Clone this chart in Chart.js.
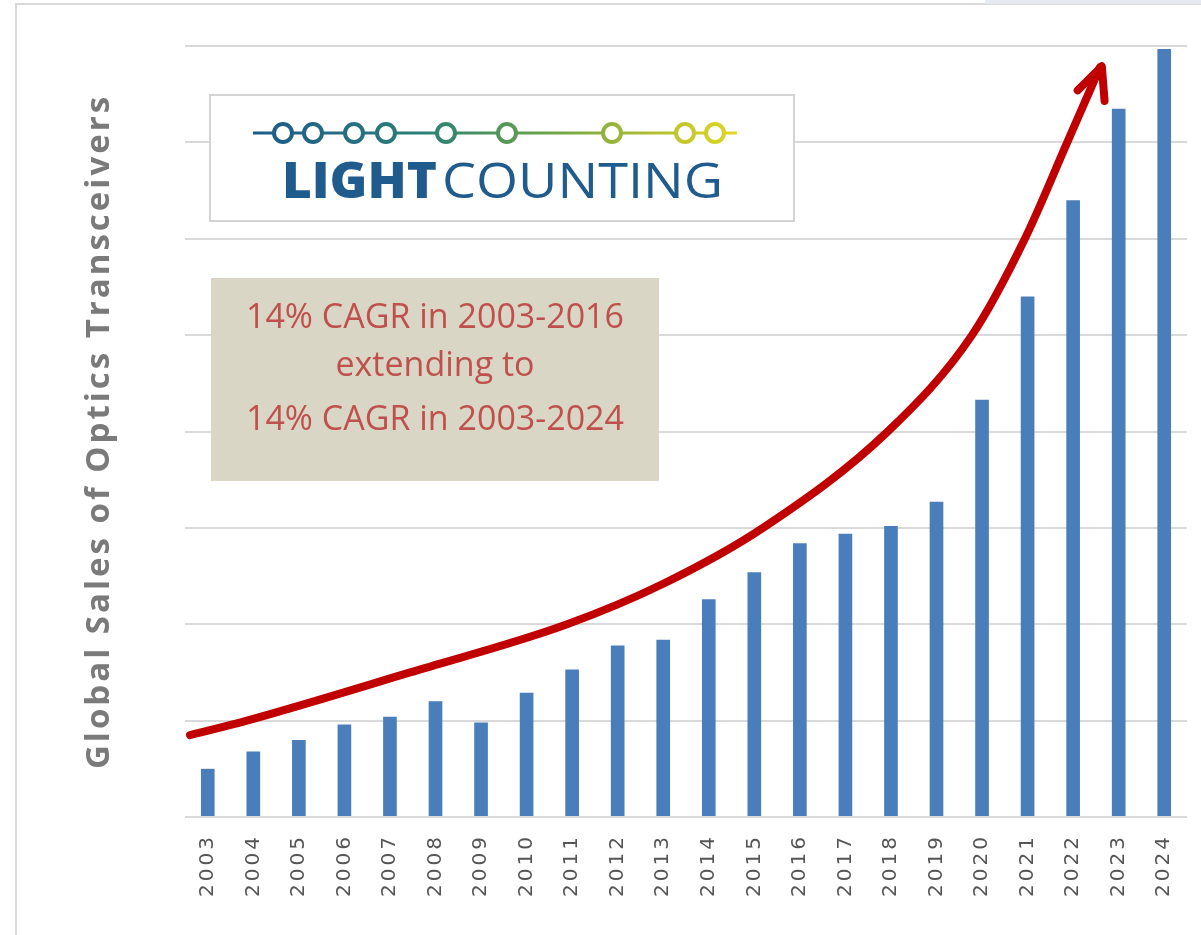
<!DOCTYPE html>
<html>
<head>
<meta charset="utf-8">
<script src="https://cdn.jsdelivr.net/npm/chart.js@4.4.1/dist/chart.umd.min.js"></script>
<style>
  html, body { margin: 0; padding: 0; background: #fff; }
  body { width: 1201px; height: 935px; position: relative; overflow: hidden; }
  #frame { position: absolute; left: 15px; top: 3px; right: -5px; bottom: -5px; border-left: 2px solid #d9d9d9; border-top: 2px solid #d9d9d9; }
  #corner { position: absolute; left: 985px; top: 0; width: 216px; height: 4px; background: #e6e9ef; }
  #wrap { position: absolute; left: 0; top: 0; width: 1201px; height: 935px; }
  #logo { position: absolute; left: 209px; top: 94px; width: 586px; height: 128px; box-sizing: border-box; border: 2px solid #d4d4d4; background: #fff; }
  #cagr { position: absolute; left: 211px; top: 278px; width: 448px; height: 203px; background: #d9d6c6; }
  #ann { position: absolute; left: 0; top: 0; pointer-events: none; }
</style>
</head>
<body>
<div id="frame"></div>
<div id="corner"></div>
<div id="wrap"><canvas id="chart"></canvas></div>
<div id="logo"></div>
<div id="cagr"></div>
<svg id="ann" width="1201" height="935">
  <defs>
    <linearGradient id="lg" gradientUnits="userSpaceOnUse" x1="253" y1="0" x2="737" y2="0">
      <stop offset="0" stop-color="#1d5a8c"/>
      <stop offset="0.35" stop-color="#2a8077"/>
      <stop offset="0.6" stop-color="#6aa24a"/>
      <stop offset="0.85" stop-color="#b8c230"/>
      <stop offset="1" stop-color="#e0d820"/>
    </linearGradient>
  </defs>
  <line x1="253" y1="133" x2="737" y2="133" stroke="url(#lg)" stroke-width="3"/>
  <g fill="#fff" stroke="url(#lg)" stroke-width="4">
    <circle cx="283" cy="133" r="9"/><circle cx="313" cy="133" r="9"/>
    <circle cx="354" cy="133" r="9"/><circle cx="386" cy="133" r="9"/>
    <circle cx="446" cy="133" r="9"/><circle cx="507" cy="133" r="9"/>
    <circle cx="612" cy="133" r="9"/><circle cx="685" cy="133" r="9"/>
    <circle cx="715" cy="133" r="9"/>
  </g>
  <text x="282" y="198" font-family="Open Sans" font-weight="800" font-size="50" fill="#1f5b8c" textLength="155" lengthAdjust="spacingAndGlyphs">LIGHT</text>
  <text x="442" y="198" font-family="Open Sans" font-weight="400" font-size="50" fill="#1f5b8c" textLength="281" lengthAdjust="spacingAndGlyphs">COUNTING</text>
  <g font-family="Open Sans" font-size="34" fill="#c0504d" text-anchor="middle">
    <text x="435" y="328">14% CAGR in 2003-2016</text>
    <text x="435" y="376">extending to</text>
    <text x="435" y="430">14% CAGR in 2003-2024</text>
  </g>
</svg>
<script>
// bar values, in gridline units (no y scale printed on the chart)
const years = ['2003', '2004', '2005', '2006', '2007', '2008', '2009', '2010', '2011', '2012', '2013',
               '2014', '2015', '2016', '2017', '2018', '2019', '2020', '2021', '2022', '2023', '2024'];
const sales = [0.50, 0.68, 0.80, 0.96, 1.04, 1.20, 0.98, 1.29, 1.53, 1.78, 1.84,
               2.26, 2.54, 2.84, 2.94, 3.02, 3.27, 4.33, 5.40, 6.40, 7.35, 7.97];

// red trend curve (x is the year)
const trendYears  = [2002.61, 2003.86, 2007.44, 2010.89, 2013.00, 2015.19,
                     2017.93, 2019.78, 2020.94, 2021.87, 2022.59];
const trendValues = [0.85, 1.00, 1.50, 2.00, 2.42, 3.00,
                     4.00, 5.00, 6.00, 7.00, 7.78];

// arrow head: left wing, tip, right wing
const arrowYears  = [2022.10, 2022.63, 2022.69];
const arrowValues = [7.54, 7.79, 7.43];

const yTitle = 'Global Sales of Optics Transceivers';

function toPoints(xs, ys) {
  return xs.map(function(x, i) { return { x: x, y: ys[i] }; });
}

// canvas text in the picture is widely spaced
const spacing = {
  id: 'spacing',
  beforeDraw: function(chart) { chart.ctx.letterSpacing = '3px'; },
  afterDraw: function(chart) { chart.ctx.letterSpacing = '0px'; }
};

new Chart(document.getElementById('chart'), {
  data: {
    labels: years,
    datasets: [
      {
        type: 'bar', data: sales, order: 2, grouped: false,
        backgroundColor: '#4a7ebb', borderWidth: 0,
        barPercentage: 0.3, categoryPercentage: 1.0
      },
      {
        type: 'line', data: toPoints(trendYears, trendValues), order: 1,
        xAxisID: 'x2', borderColor: '#c00000', borderWidth: 8,
        pointRadius: 0, fill: false, clip: false,
        cubicInterpolationMode: 'monotone', borderCapStyle: 'round'
      },
      {
        type: 'line', data: toPoints(arrowYears, arrowValues), order: 0,
        xAxisID: 'x2', borderColor: '#c00000', borderWidth: 8,
        pointRadius: 0, fill: false, clip: false, tension: 0,
        borderCapStyle: 'round', borderJoinStyle: 'round'
      }
    ]
  },
  options: {
    responsive: true,
    maintainAspectRatio: false,
    animation: false,
    devicePixelRatio: 1,
    layout: { padding: { left: 0, right: 14, top: 46, bottom: 0 } },
    plugins: { legend: { display: false }, tooltip: { enabled: false } },
    scales: {
      x: {
        type: 'category', offset: true,
        grid: { display: false }, border: { display: false },
        ticks: {
          minRotation: 90, maxRotation: 90, autoSkip: false, padding: 9,
          color: '#555555', font: { family: 'DejaVu Sans', size: 20 }
        },
        afterFit: function(s) { s.height = 118; }
      },
      x2: { type: 'linear', position: 'bottom', display: false, min: 2002.5, max: 2024.5 },
      y: {
        min: 0, max: 8,
        ticks: { display: false, stepSize: 1 },
        grid: { color: '#d9d9d9', lineWidth: 2, drawTicks: false },
        border: { display: false },
        title: {
          display: true, text: yTitle, color: '#7a7a7a',
          font: { family: 'Open Sans', size: 33, weight: 'bold' },
          padding: { top: 80, bottom: 0 }
        },
        afterFit: function(s) { s.width = 185; }
      }
    }
  },
  plugins: [spacing]
});
</script>
</body>
</html>
